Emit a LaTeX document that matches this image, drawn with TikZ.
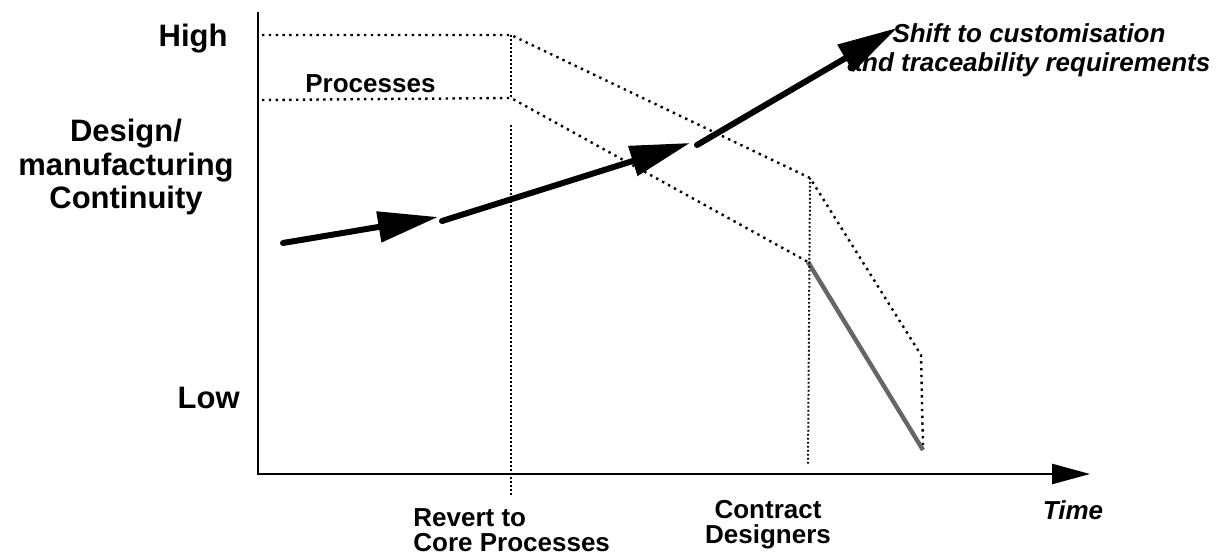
\documentclass[tikz,border=0pt]{standalone}
\usepackage{fontspec}
\setmainfont{Liberation Sans}
\usetikzlibrary{arrows.meta,positioning}

\begin{document}
\begin{tikzpicture}[x=0.5pt,y=-0.5pt,
axisline/.style={line width=1.3pt},
level/.style={line width=1.2pt,dash pattern=on 1.2pt off 2.2pt},
guide/.style={line width=1pt,dash pattern=on 0.8pt off 1.2pt},
trend/.style={line width=3pt,line cap=round,-{Triangle[length=30pt,width=15pt]}},
big/.style={font=\bfseries\fontsize{15.5}{16.75}\selectfont,inner sep=0pt,align=center},
lbl/.style={font=\bfseries\fontsize{13}{12.5}\selectfont,inner sep=0pt},
ital/.style={font=\bfseries\itshape\fontsize{13}{14.5}\selectfont,inner sep=0pt}]
\useasboundingbox (0,0) rectangle (1224,560);
% axes
\coordinate (ytop) at (258,12);
\coordinate (orig) at (258,474);
\coordinate (xend) at (1090,474);
\draw[axisline,-{Triangle[length=19pt,width=10pt]}] (ytop)--(orig)--(xend);
% continuity levels
\coordinate (hiL) at (262,35);
\coordinate (hiA) at (511,35);
\coordinate (hiB) at (810,178);
\coordinate (hiC) at (921,355);
\coordinate (endD) at (923,450);
\coordinate (loL) at (262,100);
\coordinate (loA) at (511,98);
\coordinate (loB) at (808,262);
\draw[level] (hiL)--(hiA)--(hiB)--(hiC)--(endD);
\draw[level] (loL)--(loA)--(loB);
\draw[line width=2.2pt,black!60] (loB)--(endD);
% event markers
\coordinate (revTop) at (511,125);
\coordinate (revBot) at (511,495);
\coordinate (conBot) at (808,465);
\draw[guide] (hiA)--(loA);
\draw[guide] (revTop)--(revBot);
\draw[guide] (hiB)--(conBot);
% trend arrow
\coordinate (t1) at (283,243);
\coordinate (t1e) at (438,217);
\coordinate (t2) at (442,221);
\coordinate (t2e) at (690,143);
\coordinate (t3) at (697,145);
\coordinate (t3e) at (897,28);
\draw[trend] (t1)--(t1e);
\draw[trend] (t2)--(t2e);
\draw[trend] (t3)--(t3e);
% labels
\node[big,anchor=base east] (high) at (228,47) {High};
\node[big,anchor=north] (cont) at (126,119) {Design/\\manufacturing\\Continuity};
\node[big,anchor=east] (low) at (240,398) {Low};
\node[lbl,anchor=base west] (proc) at (305,93) {Processes};
\node[lbl,anchor=north west,align=left] (revert) at (413,508) {Revert to\\Core Processes};
\node[lbl,anchor=north,align=center] (contract) at (768,500) {Contract\\Designers};
\node[ital,anchor=north] (time) at (1073,500) {Time};
\node[ital,align=center] (shift) at (1029,50) {Shift to customisation\\and traceability requirements};
\end{tikzpicture}
\end{document}
